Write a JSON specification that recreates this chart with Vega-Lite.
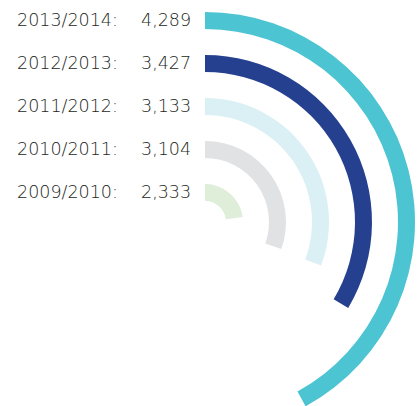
{
  "$schema": "https://vega.github.io/schema/vega-lite/v6.json",
  "autosize": "none",
  "width": 410,
  "height": 368,
  "padding": {"left": 0, "top": 38, "right": 8, "bottom": 0},
  "background": "white",
  "config": {"view": {"stroke": null}},
  "data": {
    "values": [
      {"period": "2013/2014", "value": 4289},
      {"period": "2012/2013", "value": 3427},
      {"period": "2011/2012", "value": 3133},
      {"period": "2010/2011", "value": 3104},
      {"period": "2009/2010", "value": 2333}
    ]
  },
  "layer": [
    {
      "mark": {"type": "arc", "radiusOffset": 8.5, "radius2Offset": -8.5},
      "encoding": {
        "theta": {
          "field": "value",
          "type": "quantitative",
          "stack": null,
          "scale": {"domain": [0, 10200], "range": [0, 6.283185]}
        },
        "radius": {
          "field": "period",
          "type": "ordinal",
          "scale": {
            "type": "point",
            "padding": 0,
            "domain": ["2009/2010", "2010/2011", "2011/2012", "2012/2013", "2013/2014"],
            "range": [29.5, 201.5]
          }
        },
        "radius2": {"field": "period"},
        "color": {
          "field": "period",
          "type": "nominal",
          "scale": {
            "domain": ["2009/2010", "2010/2011", "2011/2012", "2012/2013", "2013/2014"],
            "range": ["#dfeed9", "#e1e2e4", "#daf0f4", "#25408f", "#4dc4d2"]
          },
          "legend": null
        }
      }
    },
    {
      "transform": [{"calculate": "datum.period + ':'", "as": "label"}],
      "mark": {
        "type": "text",
        "align": "left",
        "baseline": "middle",
        "dx": -188,
        "fontSize": 17.5,
        "font": "DejaVu Sans",
        "fontWeight": 300,
        "color": "#231f20"
      },
      "encoding": {
        "radius": {"field": "period", "type": "ordinal"},
        "text": {"field": "label"}
      }
    },
    {
      "mark": {
        "type": "text",
        "align": "left",
        "baseline": "middle",
        "dx": -64,
        "fontSize": 17.5,
        "font": "DejaVu Sans",
        "fontWeight": 300,
        "color": "#231f20"
      },
      "encoding": {
        "radius": {"field": "period", "type": "ordinal"},
        "text": {"field": "value", "type": "quantitative", "format": ","}
      }
    }
  ]
}
